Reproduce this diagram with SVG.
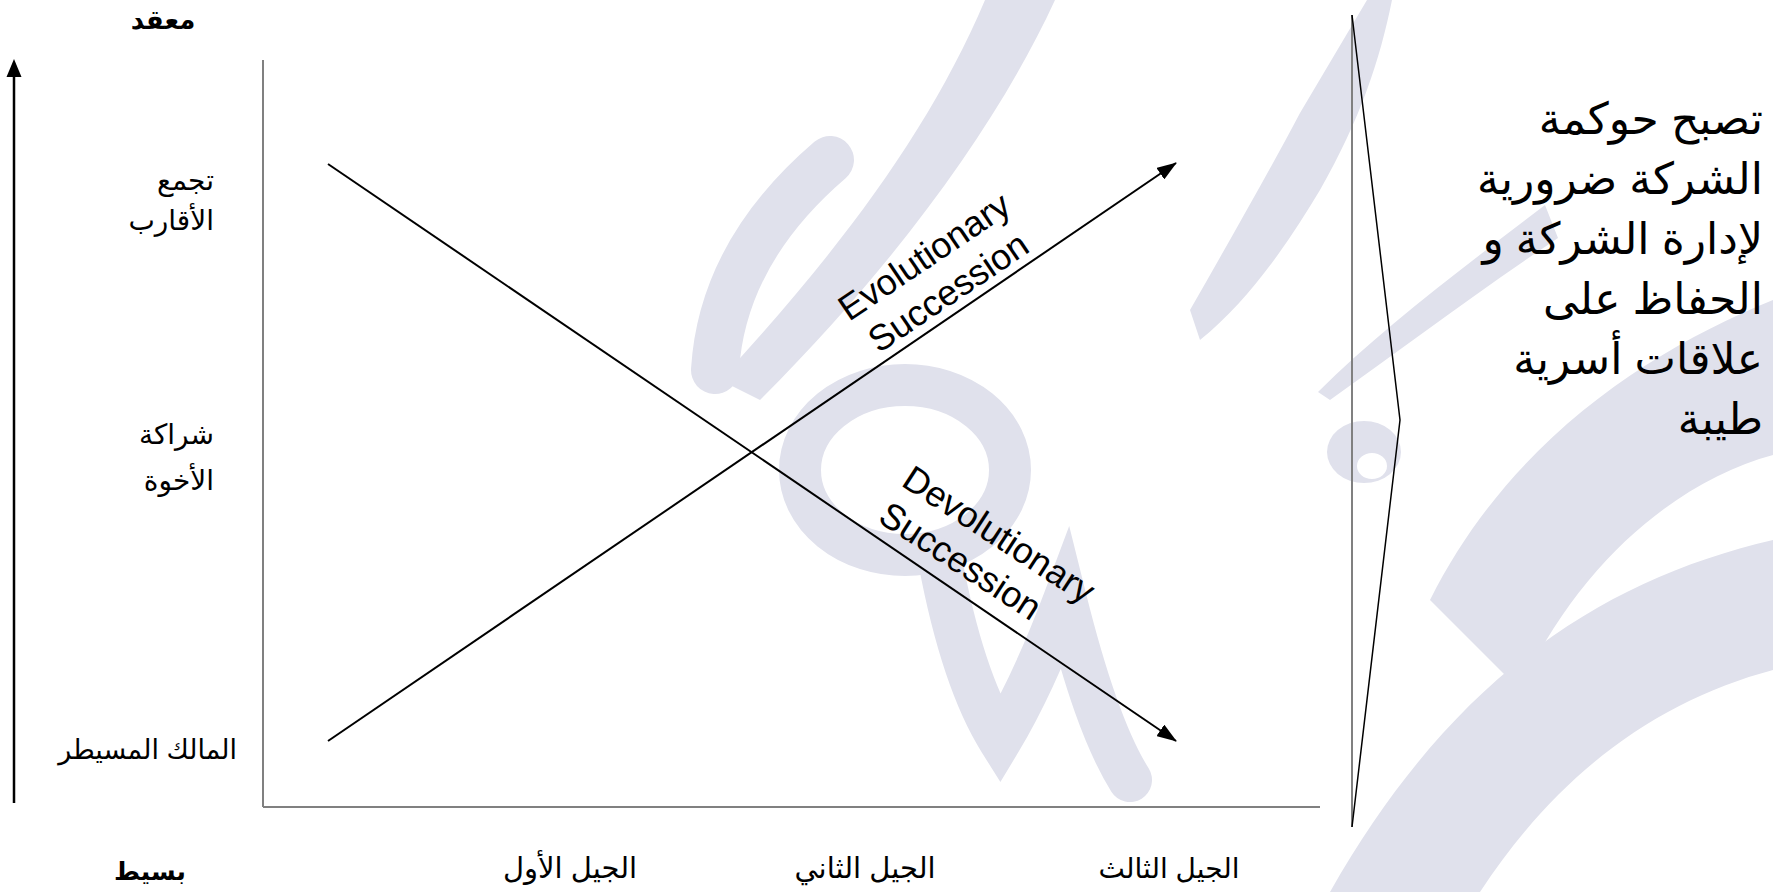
<svg xmlns="http://www.w3.org/2000/svg" width="1773" height="892" viewBox="0 0 1773 892">
<defs>
<style>
.ar{font-family:"Liberation Sans","DejaVu Sans",sans-serif;fill:#000}
.en{font-family:"Liberation Sans",Arial,sans-serif;font-size:36px;fill:#000}
.axis{stroke:#808080;stroke-width:2;fill:none}
.conn{stroke:#000;stroke-width:2;fill:none}
.wm{fill:#e0e1ec;stroke:none}
.wms{fill:none;stroke:#e0e1ec;stroke-linecap:round}
</style>
<marker id="ah2" viewBox="0 0 20 14" refX="19" refY="7" markerWidth="20" markerHeight="14" orient="auto" markerUnits="userSpaceOnUse">
<path d="M0,0 L20,7 L0,14 z" fill="#000"/>
</marker>
</defs>
<rect width="1773" height="892" fill="#fff"/>
<g id="watermark">
<path class="wm" d="M985,0 L1055,0 C1000,120 900,260 760,400 L720,380 C840,250 930,130 985,0 Z"/>
<path class="wms" stroke-width="48" d="M830,160 C760,220 720,290 715,370"/>
<ellipse cx="905" cy="470" rx="105" ry="85" class="wms" stroke-width="42"/>
<path class="wms" stroke-width="44" d="M940,560 C955,640 975,700 1000,740 C1030,690 1050,640 1065,600 C1085,680 1105,740 1130,780"/>
<path class="wm" d="M1367,0 L1392,0 C1380,60 1360,120 1320,190 C1290,240 1250,300 1200,340 L1190,310 C1230,240 1270,170 1300,113 Z"/>
<path class="wm" d="M1318,392 C1380,330 1460,270 1545,205 L1558,238 C1480,290 1400,350 1330,400 Z"/>
<path class="wm" fill-rule="evenodd" d="M1327,452 a37,31 0 1,0 74,0 a37,31 0 1,0 -74,0 Z M1357,466 a15,13 0 1,0 30,0 a15,13 0 1,0 -30,0 Z"/>
<path class="wm" d="M1773,300 C1650,350 1510,440 1430,600 L1520,690 C1580,560 1680,480 1773,455 Z"/>
<path class="wm" d="M1773,540 C1600,580 1450,680 1330,892 L1480,892 C1560,770 1660,700 1773,670 Z"/>
</g>
<g id="axes">
<line class="axis" x1="263" y1="60" x2="263" y2="807"/>
<line class="axis" x1="263" y1="807" x2="1320" y2="807"/>
</g>
<g id="complexity-arrow">
<line x1="14" y1="803" x2="14" y2="72" stroke="#000" stroke-width="2.5"/>
<polygon points="14,59 6.5,77 21.5,77" fill="#000"/>
</g>
<g id="label-complex"><text class="ar" x="163" y="29" font-size="26" font-weight="bold" text-anchor="middle">معقد</text></g>
<g id="label-simple"><text class="ar" x="150" y="880" font-size="25" font-weight="bold" text-anchor="middle">بسيط</text></g>
<g id="label-cousins">
<text class="ar" font-size="28" text-anchor="end" x="214" y="190">تجمع</text>
<text class="ar" font-size="28" text-anchor="end" x="214" y="230">الأقارب</text>
</g>
<g id="label-siblings">
<text class="ar" font-size="28" text-anchor="end" x="214" y="444">شراكة</text>
<text class="ar" font-size="28" text-anchor="end" x="214" y="490">الأخوة</text>
</g>
<g id="label-owner"><text class="ar" font-size="27" text-anchor="end" x="237" y="759">المالك المسيطر</text></g>
<g id="gen1"><text class="ar" font-size="29" text-anchor="middle" x="570" y="878">الجيل الأول</text></g>
<g id="gen2"><text class="ar" font-size="29" text-anchor="middle" x="865" y="878">الجيل الثاني</text></g>
<g id="gen3"><text class="ar" font-size="28" text-anchor="middle" x="1169" y="878">الجيل الثالث</text></g>
<g id="connectors">
<line class="conn" x1="328" y1="741" x2="1176" y2="163" marker-end="url(#ah2)"/>
<line class="conn" x1="328" y1="164" x2="1176" y2="741" marker-end="url(#ah2)"/>
</g>
<g id="evolutionary-label" transform="translate(849,322) rotate(-34)">
<text class="en" x="0" y="0">Evolutionary</text>
<text class="en" x="7" y="43">Succession</text>
</g>
<g id="devolutionary-label" transform="translate(900,485) rotate(33)">
<text class="en" x="0" y="0">Devolutionary</text>
<text class="en" x="0" y="43">Succession</text>
</g>
<g id="bracket">
<line class="axis" x1="1352" y1="15" x2="1352" y2="827"/>
<polyline points="1352,15 1400,420 1352,827" fill="none" stroke="#000" stroke-width="1.5"/>
</g>
<g id="governance-note">
<text class="ar" font-size="44" text-anchor="end" x="1763" y="134">تصبح حوكمة</text>
<text class="ar" font-size="44" text-anchor="end" x="1763" y="194">الشركة ضرورية</text>
<text class="ar" font-size="44" text-anchor="end" x="1763" y="254">لإدارة الشركة و</text>
<text class="ar" font-size="44" text-anchor="end" x="1763" y="314">الحفاظ على</text>
<text class="ar" font-size="44" text-anchor="end" x="1763" y="374">علاقات أسرية</text>
<text class="ar" font-size="44" text-anchor="end" x="1763" y="434">طيبة</text>
</g>
</svg>
